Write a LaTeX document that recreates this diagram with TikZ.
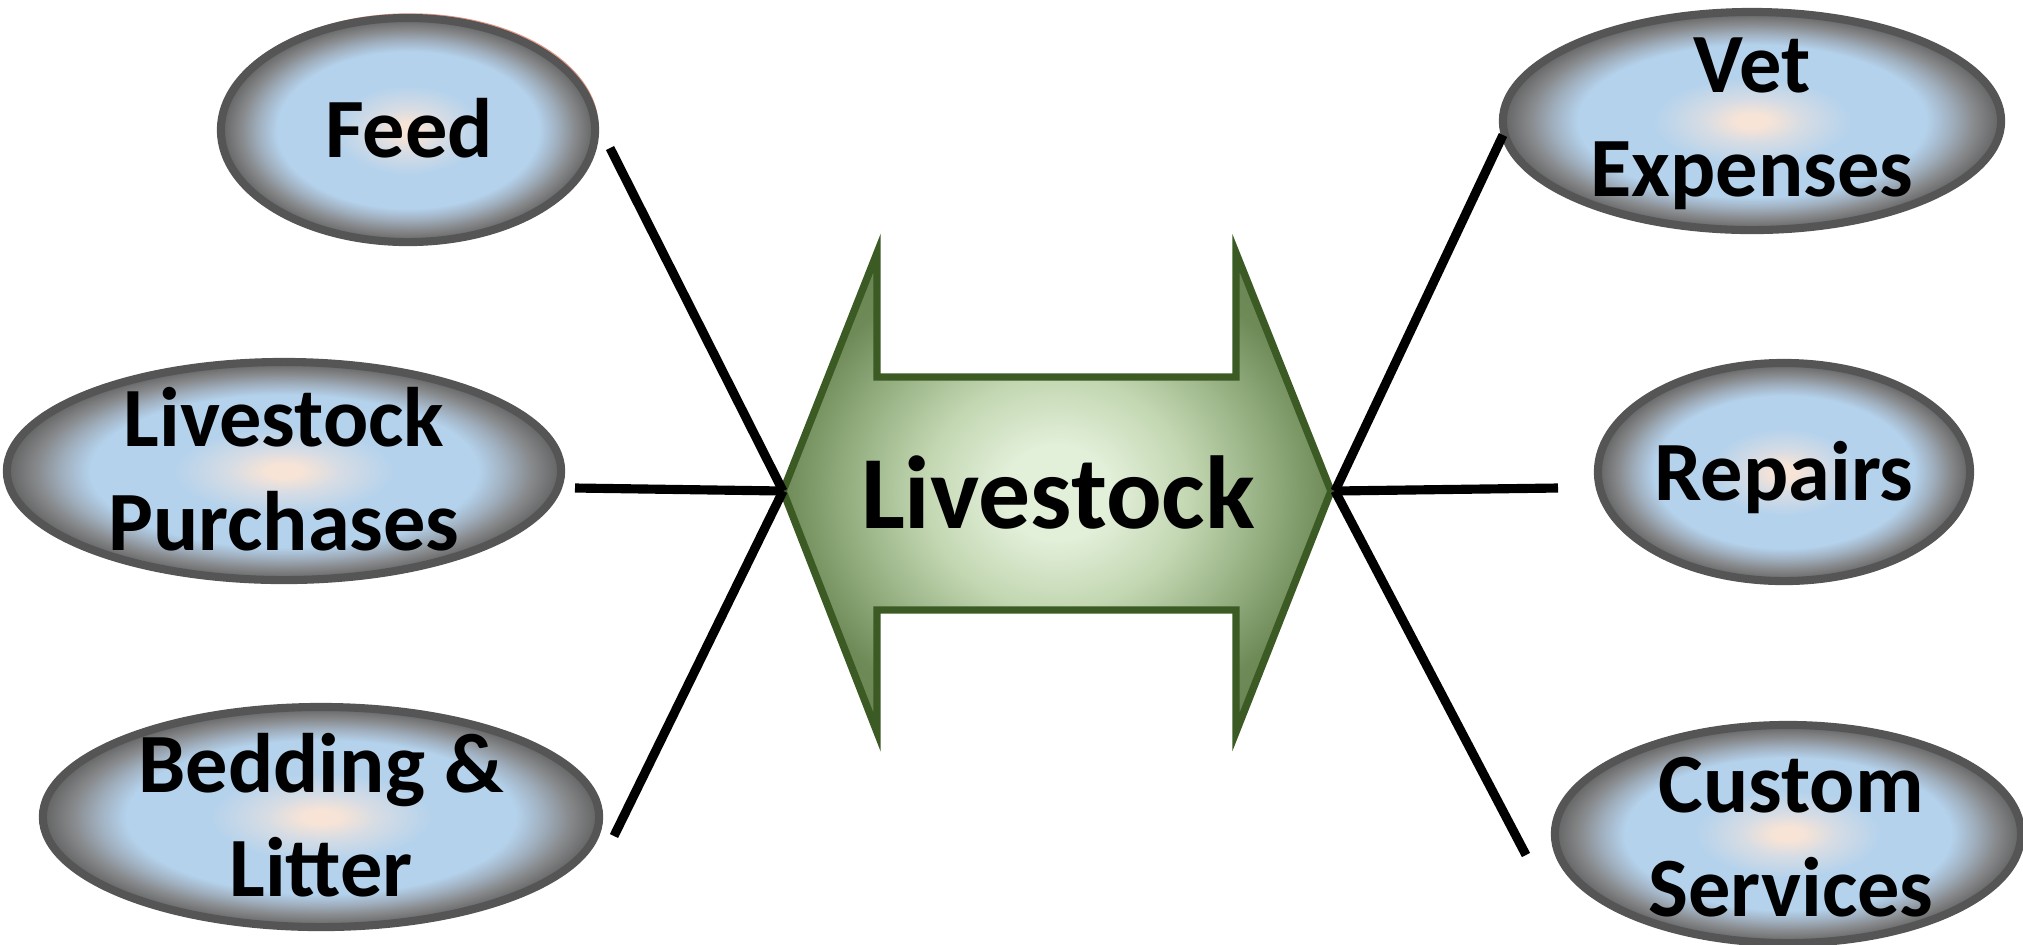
\documentclass[tikz,border=0pt]{standalone}
\usepackage{fontspec}
\setmainfont{Carlito}
\usetikzlibrary{shapes.geometric}
\definecolor{peach}{HTML}{F8E4D6}
\definecolor{peachblue}{HTML}{D6DCE4}
\definecolor{bluefill}{HTML}{B4D2EC}
\definecolor{bluegray}{HTML}{A0AFBE}
\definecolor{midgray}{HTML}{858789}
\definecolor{edgegray}{HTML}{626262}
\definecolor{rimcol}{HTML}{555555}
\definecolor{salmonrim}{HTML}{E39A86}
\definecolor{greenlight}{HTML}{E2EFD9}
\definecolor{greensoft}{HTML}{C3D7B2}
\definecolor{greenmid}{HTML}{95AF81}
\definecolor{greendark}{HTML}{6E8A57}
\definecolor{greendeep}{HTML}{647F4E}
\definecolor{greenline}{HTML}{3B5A24}
\pgfdeclareradialshading{bubbleshade}{\pgfpoint{0bp}{0bp}}{color(0bp)=(peach); color(1.5bp)=(peach); color(5bp)=(peachblue); color(10bp)=(bluefill); color(17.5bp)=(bluefill); color(20bp)=(bluegray); color(22.5bp)=(midgray); color(25bp)=(edgegray); color(50bp)=(edgegray)}
\pgfdeclareradialshading{greenshade}{\pgfpoint{0bp}{0bp}}{color(0bp)=(greenlight); color(5bp)=(greenlight); color(12bp)=(greensoft); color(19bp)=(greenmid); color(25bp)=(greendark); color(35bp)=(greendeep); color(50bp)=(greendeep)}
\tikzset{
  bubble/.style={ellipse, draw=rimcol, line width=2.3pt, shading=bubbleshade, inner sep=0pt, outer sep=0pt},
  lbl/.style={font=\fontsize{24}{29.5}\selectfont\bfseries, align=center, inner sep=0pt, anchor=base},
  biglbl/.style={font=\fontsize{29.5}{36}\selectfont\bfseries, inner sep=0pt, anchor=base},
  conn/.style={draw=black, line width=2.6pt},
  dblarrow/.style={draw=greenline, line width=2.1pt, shading=greenshade, line join=miter}
}
\begin{document}
\begin{tikzpicture}[x=0.01cm, y=-0.01cm]
\useasboundingbox (0,0) rectangle (2023,944);
% faint salmon rim on Feed
\draw[salmonrim, line width=1pt] (410,127) ellipse [x radius=187, y radius=112];
% ellipses
\node[bubble, minimum width=3.74cm, minimum height=2.24cm] (feed) at (408,130) {};
\node[bubble, minimum width=5.54cm, minimum height=2.18cm] (purch) at (284,471) {};
\node[bubble, minimum width=5.56cm, minimum height=2.20cm] (bed) at (321,817) {};
\node[bubble, minimum width=4.98cm, minimum height=2.18cm] (vet) at (1752,121) {};
\node[bubble, minimum width=3.72cm, minimum height=2.18cm] (rep) at (1784,472) {};
\node[bubble, minimum width=4.66cm, minimum height=2.18cm] (cust) at (1788,834) {};
% double arrow
\coordinate (ltip) at (783,491);
\coordinate (rtip) at (1331,491);
\path[dblarrow] (ltip) -- (877,253) -- (877,377) -- (1236,377) -- (1236,253) -- (rtip)
  -- (1236,732) -- (1236,610) -- (877,610) -- (877,732) -- cycle;
% labels (base = baseline of last line)
\node[lbl] (feedtxt) at (409,157) {Feed};
\node[lbl] (purchtxt) at (284,550) {Livestock\\Purchases};
\node[lbl] (bedtxt) at (321,896) {Bedding \&\\Litter};
\node[lbl] (vettxt) at (1752,196) {Vet\\Expenses};
\node[lbl] (reptxt) at (1784,500) {Repairs};
\node[lbl] (custtxt) at (1791,916) {Custom\\Services};
\node[biglbl] (centertxt) at (1058,528) {Livestock};
% connector ends
\coordinate (feedend) at (610,148);
\coordinate (purchend) at (575,488);
\coordinate (bedend) at (614,836);
\coordinate (vetend) at (1503,135);
\coordinate (repend) at (1558,488);
\coordinate (custend) at (1526,855);
\coordinate (rjoin) at (1335,491);
\draw[conn] (ltip) -- (feedend);
\draw[conn] (ltip) -- (purchend);
\draw[conn] (ltip) -- (bedend);
\draw[conn] (rjoin) -- (vetend);
\draw[conn] (rjoin) -- (repend);
\draw[conn] (rjoin) -- (custend);
\end{tikzpicture}
\end{document}
